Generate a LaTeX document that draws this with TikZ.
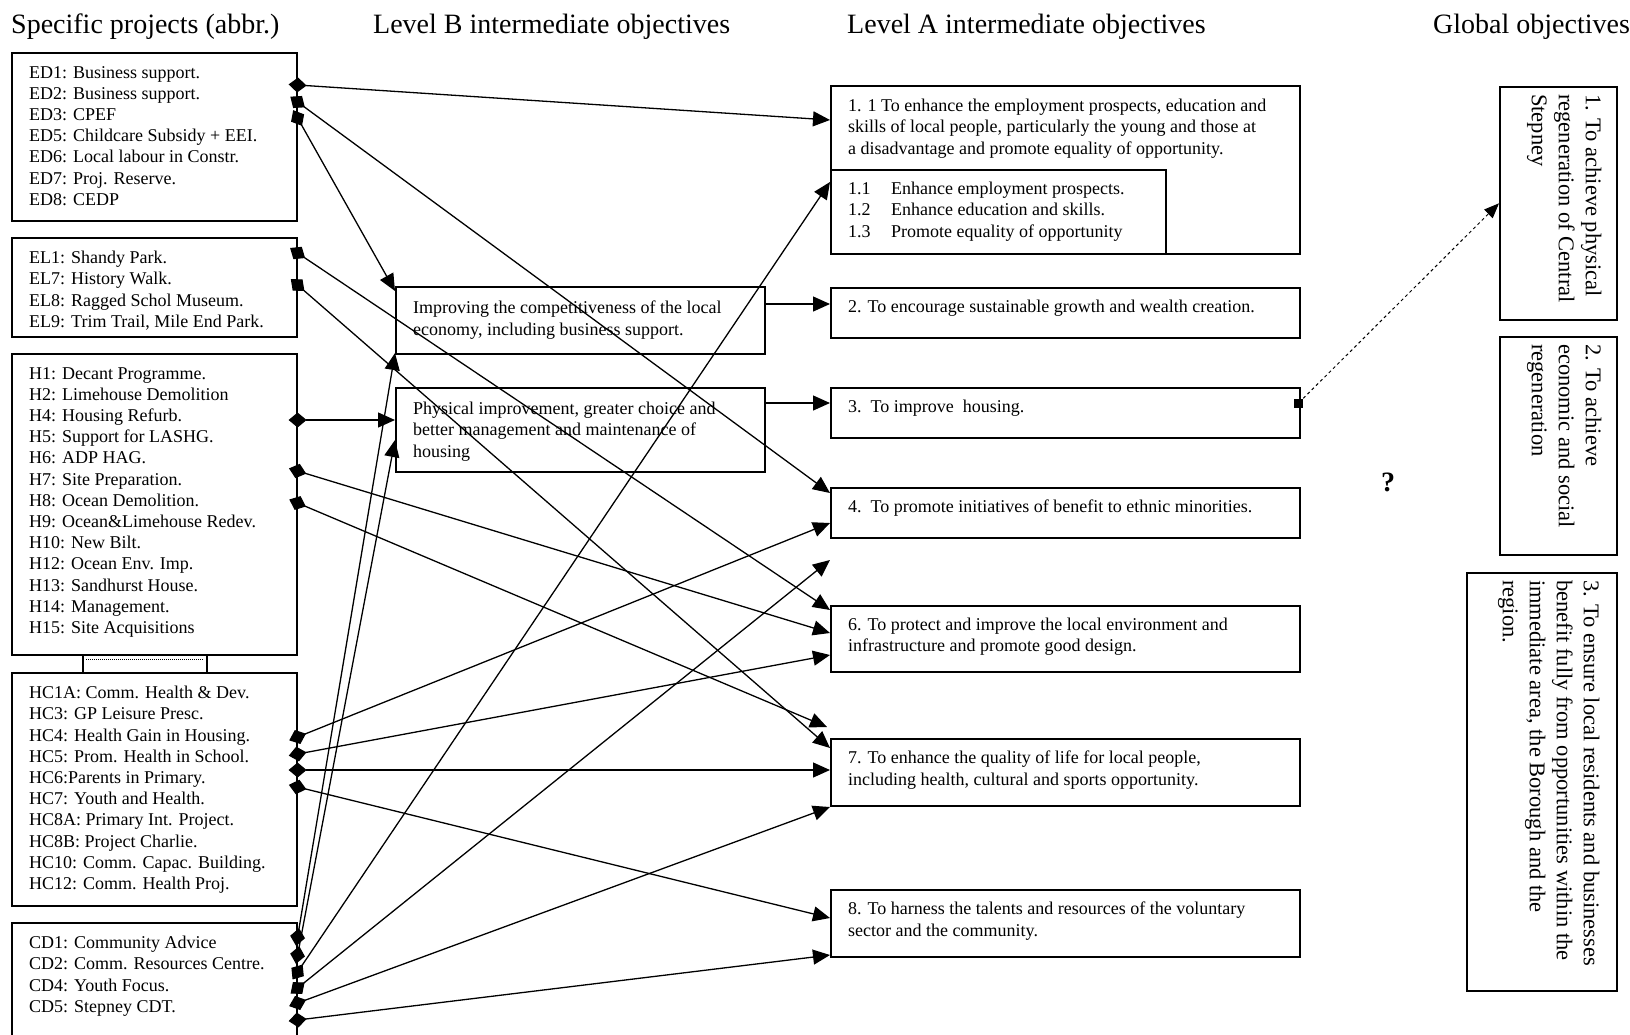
\documentclass[tikz,border=0pt]{standalone}
\usepackage{fontspec}
\setmainfont{Liberation Serif}
\usetikzlibrary{arrows.meta,calc}

\begin{document}
\begin{tikzpicture}[x=1pt,y=-1pt,
    box/.style={draw,line width=1.6pt,inner sep=0pt,anchor=north west},
    txt/.style={anchor=north west,inner sep=0pt,align=left,font=\fontsize{18}{21.2}\selectfont},
    head/.style={anchor=base west,inner sep=0pt,font=\fontsize{28}{32}\selectfont},
    gtxt/.style={anchor=north west,inner sep=0pt,align=left,rotate=-90,font=\fontsize{22.5}{27}\selectfont},
    link/.style={line width=1.3pt,{Diamond[length=18pt,width=15pt]}-{Triangle[length=17pt,width=15pt]},shorten <=-9pt},
    feed/.style={line width=1.3pt,-{Triangle[length=17pt,width=15pt]}}]
  \useasboundingbox (0,0) rectangle (1630,1034);
  \clip (0,0) rectangle (1630,1034);
  \fill[white] (0,0) rectangle (1630,1034);

  \node[head] (hproj) at (11,33) {Specific projects (abbr.)};
  \node[head] (hlevb) at (373,33) {Level B intermediate objectives};
  \node[head] (hleva) at (847,33) {Level A intermediate objectives};
  \node[head] (hglob) at (1433,33) {Global objectives};

  % specific projects
  \node[box,minimum width=285pt,minimum height=168pt] (ed) at (11,52) {};
  \node[box,minimum width=285pt,minimum height=99pt] (el) at (11,237) {};
  \node[box,minimum width=285pt,minimum height=301pt] (hs) at (11,353) {};
  \node[box,minimum width=124pt,minimum height=18pt] (hlink) at (82,654) {};
  \node[box,minimum width=285pt,minimum height=233pt] (hc) at (11,672) {};
  \node[box,minimum width=285pt,minimum height=140pt] (cd) at (11,922) {};
  \draw[line width=1pt,densely dotted] ([shift={(4,5)}]hlink.north west) -- ([shift={(-4,5)}]hlink.north east);

  \node[txt] (edlist) at ([shift={(18,14)}]ed.north west) {ED1: Business support.\\ED2: Business support.\\ED3: CPEF\\
    ED5: Childcare Subsidy + EEI.\\ED6: Local labour in Constr.\\ED7: Proj. Reserve.\\ED8: CEDP};
  \node[txt] (ellist) at ([shift={(18,14)}]el.north west) {EL1: Shandy Park.\\EL7: History Walk.\\
    EL8: Ragged Schol Museum.\\EL9: Trim Trail, Mile End Park.};
  \node[txt] (hslist) at ([shift={(18,14)}]hs.north west) {H1: Decant Programme.\\H2: Limehouse Demolition\\
    H4: Housing Refurb.\\H5: Support for LASHG.\\H6: ADP HAG.\\H7: Site Preparation.\\H8: Ocean Demolition.\\
    H9: Ocean\&Limehouse Redev.\\H10: New Bilt.\\H12: Ocean Env. Imp.\\H13: Sandhurst House.\\
    H14: Management.\\H15: Site Acquisitions};
  \node[txt] (hclist) at ([shift={(18,14)}]hc.north west) {HC1A: Comm. Health \& Dev.\\HC3: GP Leisure Presc.\\
    HC4: Health Gain in Housing.\\HC5: Prom. Health in School.\\HC6:Parents in Primary.\\HC7: Youth and Health.\\
    HC8A: Primary Int. Project.\\HC8B: Project Charlie.\\HC10: Comm. Capac. Building.\\HC12: Comm. Health Proj.};
  \node[txt] (cdlist) at ([shift={(18,14)}]cd.north west) {CD1: Community Advice\\CD2: Comm. Resources Centre.\\
    CD4: Youth Focus.\\CD5: Stepney CDT.};

  % level B
  \node[box,minimum width=369pt,minimum height=67pt] (lb1) at (395,286) {};
  \node[box,minimum width=369pt,minimum height=84pt] (lb2) at (395,387) {};
  \node[txt] (lb1txt) at ([shift={(18,15)}]lb1.north west) {Improving the competitiveness of the local\\
    economy, including business support.};
  \node[txt] (lb2txt) at ([shift={(18,15)}]lb2.north west) {Physical improvement, greater choice and\\
    better management and maintenance of\\housing};

  % level A
  \node[box,minimum width=469pt,minimum height=168pt] (la1) at (830,85) {};
  \node[box,minimum width=335pt,minimum height=84pt] (la1s) at (830,169) {};
  \node[box,minimum width=469pt,minimum height=50pt] (la2) at (830,287) {};
  \node[box,minimum width=469pt,minimum height=50pt] (la3) at (830,387) {};
  \node[box,minimum width=469pt,minimum height=50pt] (la4) at (830,487) {};
  \node[box,minimum width=469pt,minimum height=66pt] (la6) at (830,605) {};
  \node[box,minimum width=469pt,minimum height=67pt] (la7) at (830,738) {};
  \node[box,minimum width=469pt,minimum height=67pt] (la8) at (830,889) {};
  \node[txt] (la1txt) at ([shift={(18,14)}]la1.north west) {1. 1 To enhance the employment prospects, education and\\
    skills of local people, particularly the young and those at\\a disadvantage and promote equality of opportunity.};
  \node[txt] (la1stxt) at ([shift={(18,13)}]la1s.north west) {\makebox[43pt][l]{1.1}Enhance employment prospects.\\
    \makebox[43pt][l]{1.2}Enhance education and skills.\\\makebox[43pt][l]{1.3}Promote equality of opportunity};
  \node[txt] (la2txt) at ([shift={(18,13)}]la2.north west) {2. To encourage sustainable growth and wealth creation.};
  \node[txt] (la3txt) at ([shift={(18,13)}]la3.north west) {3.~~To improve~ housing.};
  \node[txt] (la4txt) at ([shift={(18,13)}]la4.north west) {4.~~To promote initiatives of benefit to ethnic minorities.};
  \node[txt] (la6txt) at ([shift={(18,13)}]la6.north west) {6. To protect and improve the local environment and\\
    infrastructure and promote good design.};
  \node[txt] (la7txt) at ([shift={(18,13)}]la7.north west) {7. To enhance the quality of life for local people,\\
    including health, cultural and sports opportunity.};
  \node[txt] (la8txt) at ([shift={(18,13)}]la8.north west) {8. To harness the talents and resources of the voluntary\\
    sector and the community.};

  % global
  \node[box,minimum width=117pt,minimum height=233pt] (g1) at (1499,86) {};
  \node[box,minimum width=117pt,minimum height=218pt] (g2) at (1499,336) {};
  \node[box,minimum width=150pt,minimum height=418pt] (g3) at (1466,572) {};
  \node[gtxt] (g1txt) at ([shift={(-16,8)}]g1.north east) {1. To achieve physical\\regeneration of Central\\Stepney};
  \node[gtxt] (g2txt) at ([shift={(-16,8)}]g2.north east) {2. To achieve\\economic and social\\regeneration};
  \node[gtxt] (g3txt) at ([shift={(-18,8)}]g3.north east) {3. To ensure local residents and businesses\\
    benefit fully from opportunities within the\\immediate area, the Borough and the\\region.};
  \node[inner sep=0pt,anchor=base,font=\bfseries\fontsize{28}{32}\selectfont] (qmark) at (1388,491) {?};

  % links
  \draw[link] ($(ed.north east)+(0,33)$) -- ($(la1.north west)+(0,35)$);
  \draw[link] ($(ed.north east)+(0,50)$) -- ($(la4.north west)+(0,6)$);
  \draw[link] ($(ed.north east)+(0,66)$) -- ($(lb1.north west)+(0,5)$);
  \draw[link] ($(el.north east)+(0,16)$) -- ($(la6.north west)+(0,5)$);
  \draw[link] ($(el.north east)+(0,48)$) -- ($(la7.north west)+(0,10)$);
  \draw[link] ($(hs.north east)+(0,67)$) -- ($(lb2.north west)+(0,33)$);
  \draw[link] ($(hs.north east)+(0,118)$) -- ($(la6.north west)+(0,28)$);
  \draw[link] ($(hs.north east)+(0,150)$) -- ($(la7.north west)+(-3,-11)$);
  \foreach \s/\t/\d in {65/la4/36,82/la6/50,98/la7/32,115/la8/29}
    \draw[link] ($(hc.north east)+(0,\s)$) -- ($(\t.north west)+(0,\d)$);
  \foreach \s/\t/\d in {15/lb1/67,33/lb2/53,50/la1/97,66/la4/73,81/la7/69,98/la8/66}
    \draw[link] ($(cd.north east)+(0,\s)$) -- ($(\t.north west)+(0,\d)$);

  \draw[feed] ($(lb1.north east)+(0,18)$) -- ($(la2.north west)+(0,17)$);
  \draw[feed] ($(lb2.north east)+(0,16)$) -- ($(la3.north west)+(0,16)$);

  \node[fill,inner sep=0pt,minimum size=9pt] (mark3) at ($(la3.north east)+(-2,16)$) {};
  \draw[line width=1pt,dash pattern=on 3pt off 3pt,-{Triangle[length=15pt,width=12pt]}] (mark3) -- (g1.west);
\end{tikzpicture}
\end{document}
